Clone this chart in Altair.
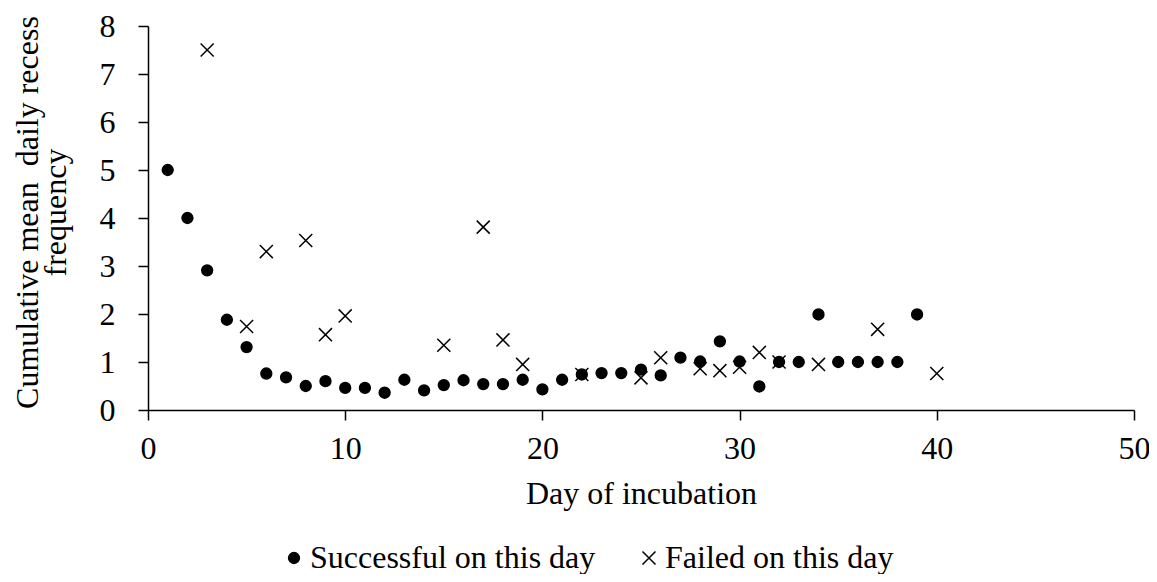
import altair as alt
import pandas as pd

# ---- data ----
series_names = ["Successful on this day", "Failed on this day"]

success_days = list(range(1, 40))
success_vals = [5.0, 4.0, 2.91, 1.88, 1.31, 0.76, 0.68, 0.50, 0.60, 0.46,
                0.46, 0.36, 0.63, 0.41, 0.52, 0.62, 0.54, 0.54, 0.63, 0.43,
                0.63, 0.74, 0.77, 0.77, 0.84, 0.72, 1.09, 1.01, 1.43, 1.01,
                0.49, 1.00, 1.00, 1.99, 1.00, 1.00, 1.00, 1.00, 1.99]

failed_days = [3, 5, 6, 8, 9, 10, 15, 17, 18, 19, 22, 25, 26, 28, 29, 30,
               31, 32, 34, 37, 40]
failed_vals = [7.5, 1.74, 3.30, 3.53, 1.57, 1.96, 1.35, 3.81, 1.46, 0.95,
               0.74, 0.67, 1.09, 0.86, 0.82, 0.89, 1.20, 1.00, 0.95, 1.68,
               0.76]

x_ticks = [0, 10, 20, 30, 40, 50]
y_ticks = [0, 1, 2, 3, 4, 5, 6, 7, 8]

rows = []
for d, v in zip(success_days, success_vals):
    rows.append({"day": d, "value": v, "series": series_names[0]})
for d, v in zip(failed_days, failed_vals):
    rows.append({"day": d, "value": v, "series": series_names[1]})
df = pd.DataFrame(rows)

FONT = "Liberation Serif"
X_PATH = "M-1,-1L1,1M-1,1L1,-1"

legend = alt.Legend(
    title=None,
    orient="none",
    legendX=130,
    legendY=516,
    direction="horizontal",
    columns=2,
    columnPadding=37,
    labelFont=FONT,
    labelFontSize=32,
    labelColor="black",
    labelOffset=0,
    labelLimit=0,
    padding=0,
    symbolStrokeColor="black",
    symbolStrokeWidth=1.5,
    symbolOpacity=1,
)

chart = alt.Chart(df).mark_point(
    filled=False, strokeWidth=1.5, opacity=1
).encode(
    x=alt.X(
        "day:Q",
        scale=alt.Scale(domain=[0, 50], nice=False),
        axis=alt.Axis(
            values=x_ticks,
            title="Day of incubation",
            labelBaseline="alphabetic",
            labelPadding=38,
            labelFlush=False,
            titleBaseline="alphabetic",
            titleY=93,
            titleX=493,
        ),
    ),
    y=alt.Y(
        "value:Q",
        scale=alt.Scale(domain=[0, 8], nice=False),
        axis=alt.Axis(
            values=y_ticks,
            title=["Cumulative mean\u00a0 daily recess", "frequency"],
            labelBaseline="middle",
            labelPadding=23,
            labelAlign="right",
            titleAngle=270,
            titleBaseline="alphabetic",
            titleAlign="center",
            titleX=-111,
            titleY=186,
            titleLineHeight=28,
        ),
    ),
    shape=alt.Shape("series:N",
                    scale=alt.Scale(domain=series_names, range=["circle", X_PATH]),
                    legend=legend),
    fill=alt.Fill("series:N",
                  scale=alt.Scale(domain=series_names, range=["black", "transparent"]),
                  legend=legend),
    stroke=alt.Stroke("series:N",
                      scale=alt.Scale(domain=series_names, range=["black", "black"]),
                      legend=legend),
    size=alt.Size("series:N",
                  scale=alt.Scale(domain=series_names, range=[117, 170]),
                  legend=legend),
).properties(
    width=986,
    height=384,
    autosize=alt.AutoSizeParams(type="none"),
    padding={"left": 140, "top": 18, "right": 15, "bottom": 164},
    background="white",
).configure_view(
    stroke=None
).configure_axis(
    grid=False,
    domainColor="black",
    domainWidth=1.5,
    tickColor="black",
    tickWidth=1.5,
    tickSize=10,
    labelFont=FONT,
    labelFontSize=32,
    labelColor="black",
    titleFont=FONT,
    titleFontSize=32,
    titleFontWeight="normal",
    titleColor="black",
)

chart.save("out.html", embed_options={"renderer": "svg", "actions": False})
